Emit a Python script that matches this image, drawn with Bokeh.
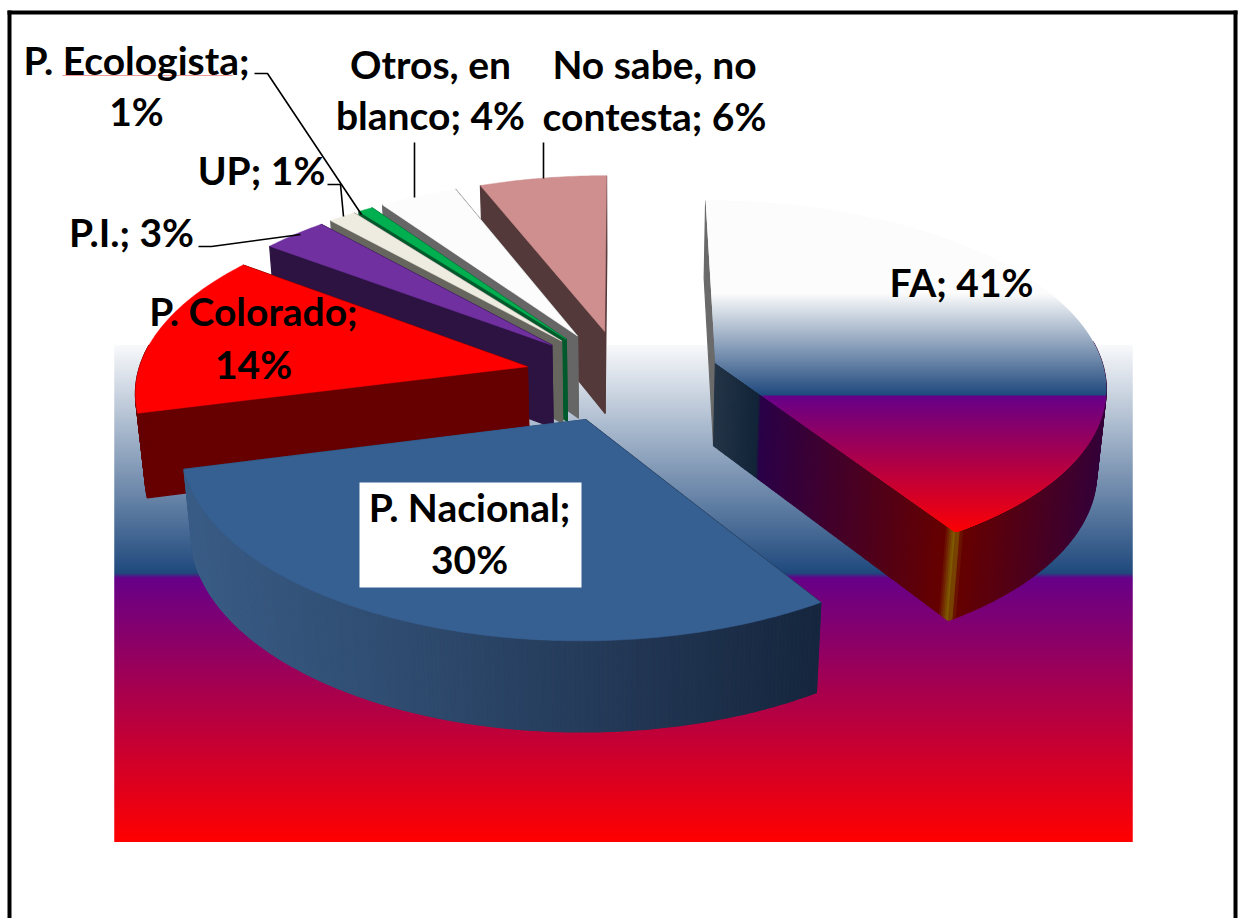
import numpy as np
from bokeh.plotting import figure
from bokeh.embed import file_html
from bokeh.resources import INLINE
from bokeh.core.properties import value
from bokeh.models import Range1d

# ---- data
categories = ["FA", "P. Nacional", "P. Colorado", "P.I.", "UP", "P. Ecologista", "Otros, en blanco", "No sabe, no contesta"]
shares = [41, 30, 14.2, 3.1, 1.3, 0.7, 3.7, 6]
top_colors = [None, "#376092", "#ff0000", "#7030a0", "#eeece1", "#00b050", "#fcfcfc", "#cf8f8e"]
wall_colors = [None, None, "#660000", "#2c1342", "#66665f", "#005a2c", "#666666", "#54393a"]
label_lines = ["FA; 41%", "P. Nacional;", "30%", "P. Colorado;", "14%", "P.I.; 3%", "UP; 1%",
               "P. Ecologista;", "1%", "Otros, en", "blanco; 4%", "No sabe, no", "contesta; 6%"]
label_x = [961, 469, 469, 253, 253, 131, 261, 136, 136, 430, 430, 654, 654]
label_y = [281, 506, 558, 310, 363, 231, 169, 59, 110, 63, 114, 63, 115]

# ---- projection of the tilted pie
CX, CY, A, B, K, DEPTH, SHRINK, EXPLODE = 622, 375, 390, 184, 0.118, 85, 0.02, 0.25


def project(X, Y, bottom=False):
    w = 1 - K * Y
    if bottom:
        return CX + A * X / (w + SHRINK), CY + (B * Y + DEPTH) / (w + SHRINK)
    return CX + A * X / w, CY + B * Y / w


def hex_rgb(h):
    return np.array([int(h[i:i + 2], 16) for i in (1, 3, 5)], float)


def ramp(t, stops):
    pos = [s[0] for s in stops]
    rgb = np.array([hex_rgb(s[1]) for s in stops])
    c = [np.interp(t, pos, rgb[:, i]) for i in range(3)]
    return "#%02x%02x%02x" % tuple(int(round(v)) for v in c)


def row_edges(rows):
    """Pixel-aligned row bounds; each row runs under the next so no seams show."""
    rows = np.asarray(rows, float)
    top = rows - 0.5
    bottom = rows + 1.5
    bottom[-1] = rows[-1] + 0.5
    return top, bottom


def bands(poly_x, poly_y, stops):
    """Horizontal 1px spans filling a convex polygon."""
    px, py = np.asarray(poly_x), np.asarray(poly_y)
    L, R, Y, C = [], [], [], []
    for y in range(int(np.floor(py.min())), int(np.ceil(py.max()))):
        yc = y + 0.5
        xs = []
        for i in range(len(px)):
            j = (i + 1) % len(px)
            if (py[i] - yc) * (py[j] - yc) <= 0 and py[i] != py[j]:
                xs.append(px[i] + (yc - py[i]) / (py[j] - py[i]) * (px[j] - px[i]))
        if len(xs) >= 2:
            L.append(min(xs)); R.append(max(xs)); Y.append(y); C.append(ramp(yc, stops))
    top, bottom = row_edges(Y)
    return dict(left=L, right=R, top=top, bottom=bottom, color=C)


p = figure(width=1240, height=918, x_range=Range1d(0, 1240), y_range=Range1d(918, 0),
           output_backend="svg", toolbar_location=None, min_border=0)
p.axis.visible = False
p.grid.visible = False
p.outline_line_color = None
p.background_fill_color = "#ffffff"
p.border_fill_color = "#ffffff"

# frame of the picture
p.quad(left=[7, 1233, 7], right=[11, 1237, 1237], top=[10, 10, 10], bottom=[918, 918, 14],
       fill_color="#000000", fill_alpha=1, line_color=None)

# gradient plate behind the pie
bg_stops = [(345, "#f8f9fb"), (573, "#1f497d"), (578, "#660088"), (842, "#ff0000")]
ys = np.arange(345, 842)
bg_top, bg_bottom = row_edges(ys)
p.quad(left=114, right=1132, top=bg_top, bottom=bg_bottom, fill_color=[ramp(y + 0.5, bg_stops) for y in ys],
       fill_alpha=1, line_color=None)

fa_top = [(202, "#fcfcfc"), (293, "#fcfcfc"), (395, "#1f497d"), (396, "#660088"), (535, "#ff0000")]
fa_side = [(700, "#2a3a4c"), (757, "#122438"), (760, "#2a0048"), (942, "#660000"), (951, "#806000"),
           (958, "#660000"), (1110, "#30003e")]
pn_side = [(175, "#3a5d87"), (400, "#2f4c70"), (600, "#243a58"), (815, "#16263e")]

edges = np.concatenate([[0], np.cumsum(shares)]) * 3.6
draw_order = [7, 6, 5, 4, 3, 2, 0, 1]

for i in draw_order:
    a0, a1 = np.radians(edges[i]), np.radians(edges[i + 1])
    mid = (a0 + a1) / 2
    ex, ey = EXPLODE * np.sin(mid), -EXPLODE * np.cos(mid)
    th = np.linspace(a0, a1, max(3, int((edges[i + 1] - edges[i]) / 0.6)))
    rx, ry = ex + np.sin(th), ey - np.cos(th)

    def side_color(x):
        if i == 0:
            return ramp(x, fa_side)
        if i == 1:
            return ramp(x, pn_side)
        return wall_colors[i]

    xs_list, ys_list, cols = [], [], []

    # radial walls, back one first
    for ang_rx, ang_ry in sorted([(rx[0], ry[0]), (rx[-1], ry[-1])], key=lambda r: r[1]):
        n = 150 if (i == 0 and ang_ry > ey) else 1
        ts = np.linspace(0, 1, n + 1)
        for t0, t1 in zip(ts[:-1], ts[1:]):
            x0, y0 = ex + (ang_rx - ex) * t0, ey + (ang_ry - ey) * t0
            x1, y1 = ex + (ang_rx - ex) * t1, ey + (ang_ry - ey) * t1
            q = [project(x0, y0), project(x1, y1), project(x1, y1, True), project(x0, y0, True)]
            qx, qy = zip(*q)
            xs_list.append(list(qx)); ys_list.append(list(qy))
            cols.append("#6a6a6a" if (i == 0 and ang_ry < ey) else side_color(np.mean(qx)))

    # outer rim: only the part that faces the viewer
    for j in range(len(th) - 1):
        if -np.cos((th[j] + th[j + 1]) / 2) < -0.12:
            continue
        q = [project(rx[j], ry[j]), project(rx[j + 1], ry[j + 1]),
             project(rx[j + 1], ry[j + 1], True), project(rx[j], ry[j], True)]
        qx, qy = zip(*q)
        xs_list.append(list(qx)); ys_list.append(list(qy))
        cols.append(side_color(np.mean(qx)))

    p.patches(xs_list, ys_list, fill_color=cols, fill_alpha=1, line_color=cols, line_alpha=1, line_width=1.2)

    # top face
    tx, ty = project(np.concatenate([[ex], rx]), np.concatenate([[ey], ry]))
    if i == 0:
        b = bands(tx, ty, fa_top)
        p.quad(left=b["left"], right=b["right"], top=b["top"], bottom=b["bottom"], fill_color=b["color"],
               fill_alpha=1, line_color=None)
    else:
        p.patch(list(tx), list(ty), fill_color=top_colors[i], fill_alpha=1, line_color=top_colors[i], line_width=0.5)

# white plate under the P. Nacional label
p.quad(left=[359], right=[581], top=[482], bottom=[587], fill_color="#ffffff", fill_alpha=1, line_color=None)

# leader lines
leader_x = [[254, 267, 361], [327, 340, 343], [198, 211, 300], [414, 414], [543, 543]]
leader_y = [[73, 73, 214], [184, 184, 216], [246, 246, 234], [142, 197], [142, 178]]
p.multi_line(leader_x, leader_y, line_color="#000000", line_width=1.6)

# proofing underline
p.line([62, 232], [75, 75], line_color="#f29a9a", line_width=1)

p.text(x=label_x, y=label_y, text=label_lines, text_font=value("Lato"), text_font_style="bold",
       text_font_size="39px", text_align="center", text_baseline="middle", text_color="#000000")

open("out.html", "w").write(file_html(p, INLINE))
